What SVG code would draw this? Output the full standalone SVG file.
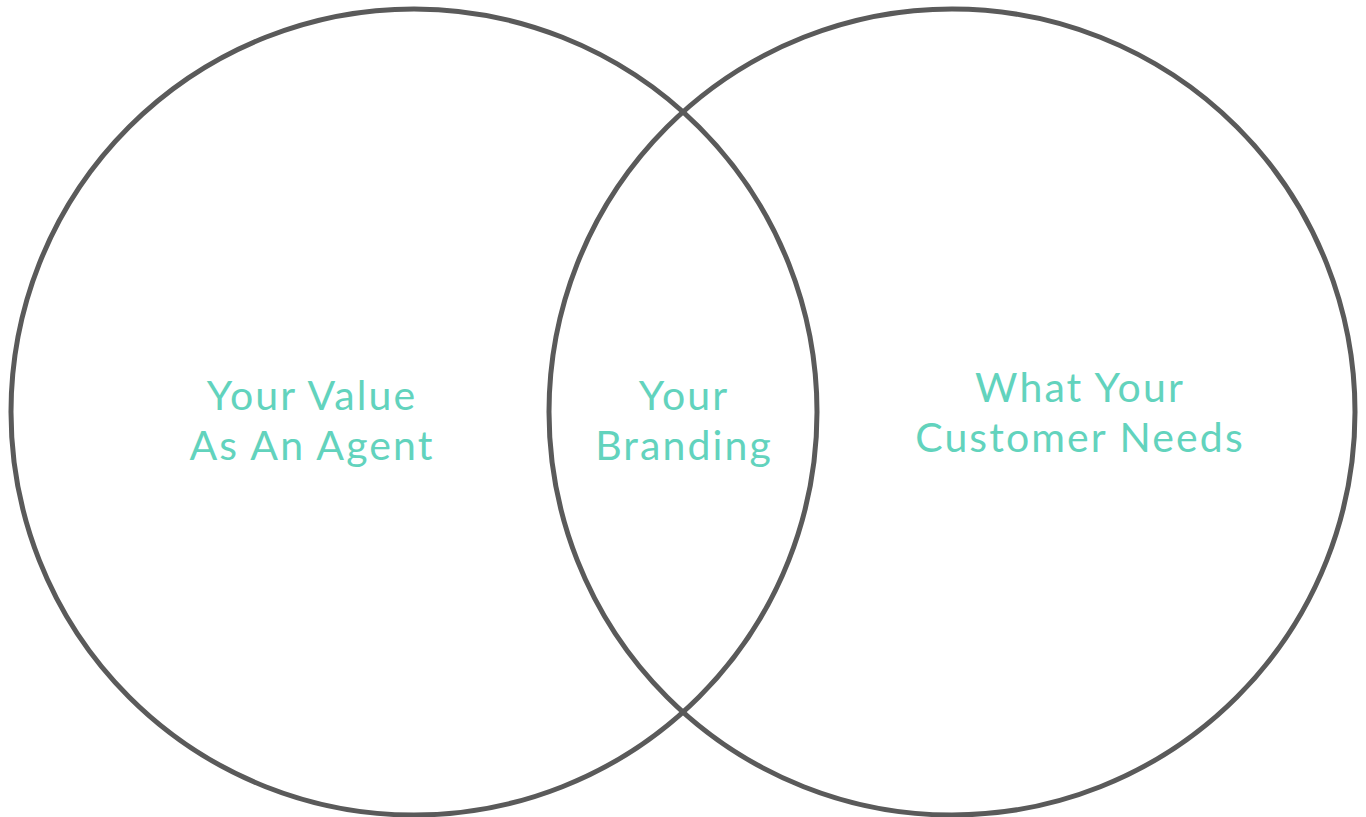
<svg xmlns="http://www.w3.org/2000/svg" width="1366" height="817" viewBox="0 0 1366 817">
  <style>
    .ring { fill: none; stroke: #5a5a5a; stroke-width: 5; }
    .label { font-family: "Lato", "Noto Sans", "Liberation Sans", sans-serif; font-weight: 400; font-size: 41px; letter-spacing: 2.1px; fill: #62d3bd; text-anchor: middle; }
  </style>
  <rect width="1366" height="817" fill="#ffffff"/>
  <g id="value-circle">
    <circle class="ring" cx="414" cy="412" r="403"/>
    <text class="label" x="312" y="410">Your Value</text>
    <text class="label" x="312" y="460">As An Agent</text>
  </g>
  <g id="customer-circle">
    <circle class="ring" cx="952" cy="412" r="403"/>
    <text class="label" x="1080" y="402">What Your</text>
    <text class="label" x="1080" y="452">Customer Needs</text>
  </g>
  <g id="branding-overlap">
    <text class="label" x="684" y="410">Your</text>
    <text class="label" x="684" y="460">Branding</text>
  </g>
</svg>
